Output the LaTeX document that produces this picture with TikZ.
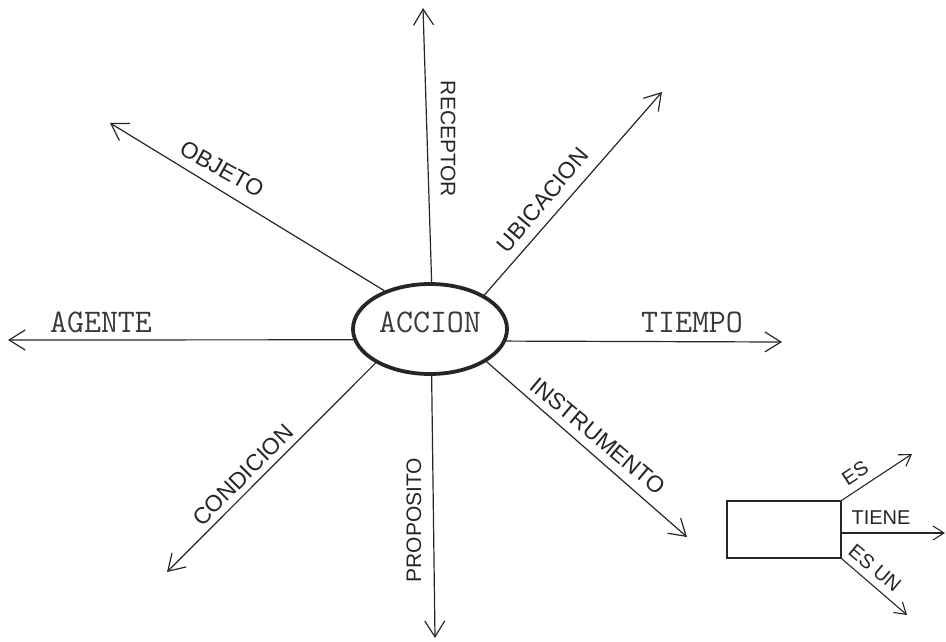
\documentclass[tikz,border=0pt]{standalone}
\usepackage{fontspec}
\usetikzlibrary{arrows.meta,shapes.geometric}
\setmonofont{Latin Modern Mono}
\newfontfamily\handfont{Liberation Sans}
\definecolor{ink}{HTML}{262626}
\definecolor{typeink}{HTML}{3A3A3A}
\begin{document}
\begin{tikzpicture}[x=1pt,y=-1pt,
  axisline/.style={draw=ink, line width=1.2pt, -{Straight Barb[length=16pt,width=20pt,line width=1.2pt]}},
  smallline/.style={draw=ink, line width=1.1pt, -{Straight Barb[length=11pt,width=14pt,line width=1.1pt]}},
  typed/.style={font=\ttfamily\fontsize{33}{33}\selectfont, text=typeink, inner sep=0pt},
  hand/.style={font=\handfont\fontsize{23}{23}\selectfont, text=ink, inner sep=0pt},
  handsmall/.style={font=\handfont\fontsize{20}{20}\selectfont, text=ink, inner sep=0pt}]
\useasboundingbox (0,0) rectangle (946,641);

% central node
\node[ellipse, draw=ink, line width=3.8pt, minimum width=154pt, minimum height=90pt,
      inner sep=0pt, text depth=14pt, typed] (accion) at (430,329) {ACCION};

% arrow tips
\coordinate (tAgente) at (8,340);
\coordinate (tTiempo) at (782,342);
\coordinate (tRecep) at (423,8);
\coordinate (tProp) at (435,638);
\coordinate (tUbic) at (662,92);
\coordinate (tObj) at (110,123);
\coordinate (tInstr) at (687,537);
\coordinate (tCond) at (167,572);

\draw[axisline] (accion.188) -- (tAgente);
\draw[axisline] (accion.351) -- (tTiempo);
\draw[axisline] (accion.88) -- (tRecep);
\draw[axisline] (accion.272) -- (tProp);
\draw[axisline] (accion.32) -- (tUbic);
\draw[axisline] (accion.140) -- (tObj);
\draw[axisline] (accion.330) -- (tInstr);
\draw[axisline] (accion.212) -- (tCond);

% labels
\node[typed] (lAgente) at (101,322) {AGENTE};
\node[typed] (lTiempo) at (692,322) {TIEMPO};
\node[hand, rotate=-90, font=\handfont\fontsize{21}{21}\selectfont] (lRecep) at (448,139) {RECEPTOR};
\node[hand, rotate=90, font=\handfont\fontsize{21}{21}\selectfont] (lProp) at (414,520) {PROPOSITO};
\node[hand, rotate=50] (lUbic) at (543,200) {UBICACION};
\node[hand, rotate=-29] (lObj) at (222,169) {OBJETO};
\node[hand, rotate=-40] (lInstr) at (598,436) {INSTRUMENTO};
\node[hand, rotate=45] (lCond) at (243,475) {CONDICION};

% legend box
\node[draw=ink, line width=1.1pt, minimum width=114pt, minimum height=57pt, inner sep=0pt] (box) at (784,529.5) {};
\coordinate (tEs) at (912,454);
\coordinate (tTiene) at (945,533);
\coordinate (tEsun) at (907,615);
\draw[smallline] (box.north east) -- (tEs);
\draw[smallline] ([yshift=-3.5pt]box.east) -- (tTiene);
\draw[smallline] (box.south east) -- (tEsun);
\node[handsmall, rotate=33] (lEs) at (855,473) {ES};
\node[handsmall] (lTiene) at (881,518) {TIENE};
\node[handsmall, rotate=-40] (lEsun) at (875,568) {ES UN};
\end{tikzpicture}
\end{document}
